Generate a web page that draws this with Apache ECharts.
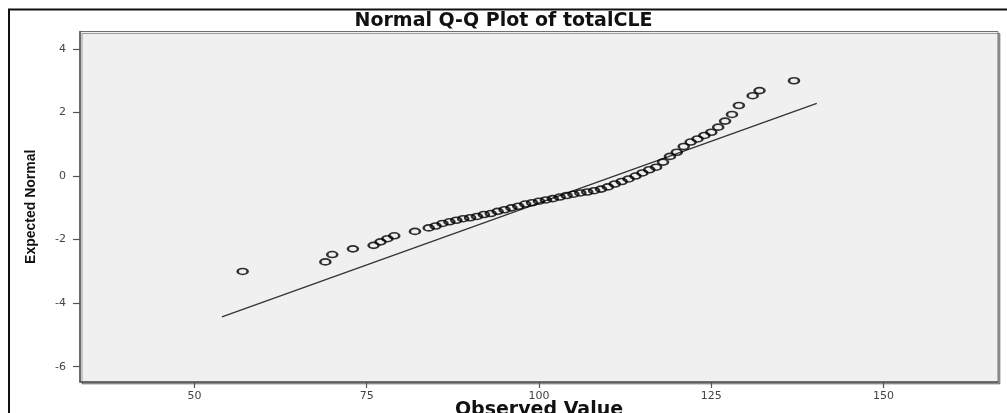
<!DOCTYPE html>
<html>
<head>
<meta charset="utf-8">
<title>Normal Q-Q Plot of totalCLE</title>
<script src="https://cdn.jsdelivr.net/npm/echarts@6/dist/echarts.min.js"></script>
<style>
    html, body { margin: 0; padding: 0; background: #fff; }
    #qq-chart { width: 1007px; height: 413px; }
</style>
</head>
<body>
<div id="qq-chart"></div>
<script>
// Observed values (totalCLE) and their expected normal scores
var observed = [57, 69, 70, 73, 76, 77, 78, 79, 82, 84, 85, 86, 87, 88, 89, 90, 91, 92, 93,
    94, 95, 96, 97, 98, 99, 100, 101, 102, 103, 104, 105, 106, 107, 108, 109, 110, 111, 112,
    113, 114, 115, 116, 117, 118, 119, 120, 121, 122, 123, 124, 125, 126, 127, 128, 129,
    131, 132, 137];
var expected = [-3.00, -2.70, -2.47, -2.29, -2.18, -2.07, -1.97, -1.88, -1.74, -1.63, -1.57,
    -1.49, -1.44, -1.39, -1.34, -1.31, -1.27, -1.21, -1.18, -1.11, -1.06, -1.00, -0.95, -0.88,
    -0.84, -0.79, -0.75, -0.71, -0.66, -0.61, -0.57, -0.53, -0.50, -0.46, -0.41, -0.34, -0.25,
    -0.17, -0.09, 0.00, 0.10, 0.20, 0.28, 0.44, 0.62, 0.75, 0.93, 1.07, 1.17, 1.28, 1.38,
    1.54, 1.73, 1.94, 2.22, 2.53, 2.69, 3.00];

// Reference line end points
var refLineX = [54, 140.3];
var refLineY = [-4.43, 2.29];

// Tick labels
var xTicks = [50, 75, 100, 125, 150];
var yTicks = [-6, -4, -2, 0, 2, 4];

var points = observed.map(function (v, i) {
    return [v, expected[i]];
});
var refLine = refLineX.map(function (v, i) {
    return [v, refLineY[i]];
});

// open circle, drawn as a path so it can be a bit wider than tall
var ringPath = 'path://M0,-1A1,1,0,1,1,0,1A1,1,0,1,1,0,-1Z';
var tickFont = 'DejaVu Sans';

var chart = echarts.init(document.getElementById('qq-chart'));

try {
    var option = {
        animation: false,
        backgroundColor: '#ffffff',
        title: {
            text: 'Normal Q-Q Plot of totalCLE',
            left: 'center',
            top: 12,
            padding: 0,
            textStyle: {
                fontFamily: 'DejaVu Sans',
                fontSize: 19,
                fontWeight: 'bold',
                color: '#111'
            }
        },
        grid: {
            left: 80,
            right: 9,
            top: 31.5,
            bottom: 31,
            outerBoundsMode: 'none', // keep the plot box where it is
            show: true,
            backgroundColor: '#f0f0f0',
            borderColor: '#707070',
            borderWidth: 1,
            shadowColor: 'rgba(0,0,0,0.35)',
            shadowOffsetX: 2,
            shadowOffsetY: 2
        },
        xAxis: {
            type: 'value',
            min: 33.4,
            max: 166.6,
            name: 'Observed Value',
            nameLocation: 'middle',
            nameGap: 19,
            nameMoveOverlap: false, // name sits close under the tick labels
            nameTextStyle: {
                fontFamily: 'DejaVu Sans',
                fontSize: 19,
                fontWeight: 'bold',
                color: '#111',
                verticalAlign: 'top'
            },
            splitLine: { show: false },
            axisLine: { show: true, onZero: false, lineStyle: { color: '#555', width: 1.5 } },
            axisTick: {
                show: true,
                length: 6,
                customValues: xTicks,
                lineStyle: { color: '#555', width: 1.2 }
            },
            axisLabel: {
                customValues: xTicks,
                margin: 9,
                fontFamily: tickFont,
                fontSize: 11,
                color: '#444'
            }
        },
        yAxis: {
            type: 'value',
            min: -6.48,
            max: 4.55,
            name: 'Expected Normal',
            nameLocation: 'middle',
            nameGap: 42,
            nameRotate: 90,
            nameMoveOverlap: false,
            nameTextStyle: {
                fontFamily: 'Liberation Sans',
                fontSize: 14,
                fontWeight: 'bold',
                color: '#111'
            },
            splitLine: { show: false },
            axisLine: { show: true, onZero: false, lineStyle: { color: '#555', width: 1.5 } },
            axisTick: {
                show: true,
                length: 7,
                customValues: yTicks,
                lineStyle: { color: '#555', width: 1.2 }
            },
            axisLabel: {
                customValues: yTicks,
                margin: 14,
                fontFamily: tickFont,
                fontSize: 11,
                color: '#444'
            }
        },
        graphic: [
            {
                // outer frame (top and left edges)
                type: 'polyline',
                silent: true,
                shape: { points: [[9, 413], [9, 9.5], [1007, 9.5]] },
                style: { fill: null, stroke: '#111', lineWidth: 2 }
            }
        ],
        series: [
            {
                name: 'Reference',
                type: 'line',
                data: refLine,
                symbol: 'none',
                silent: true,
                lineStyle: { color: '#333', width: 1.3 },
                z: 2
            },
            {
                name: 'totalCLE',
                type: 'scatter',
                data: points,
                symbol: ringPath,
                symbolSize: [10, 6],
                itemStyle: {
                    color: 'rgba(0,0,0,0)',
                    borderColor: '#000',
                    borderWidth: 2
                },
                z: 3
            }
        ]
    };

    chart.setOption(option);

    window.addEventListener('resize', function () {
        chart.resize();
    });
} catch (error) {
    console.error('Error initializing chart:', error);
}
</script>
</body>
</html>
